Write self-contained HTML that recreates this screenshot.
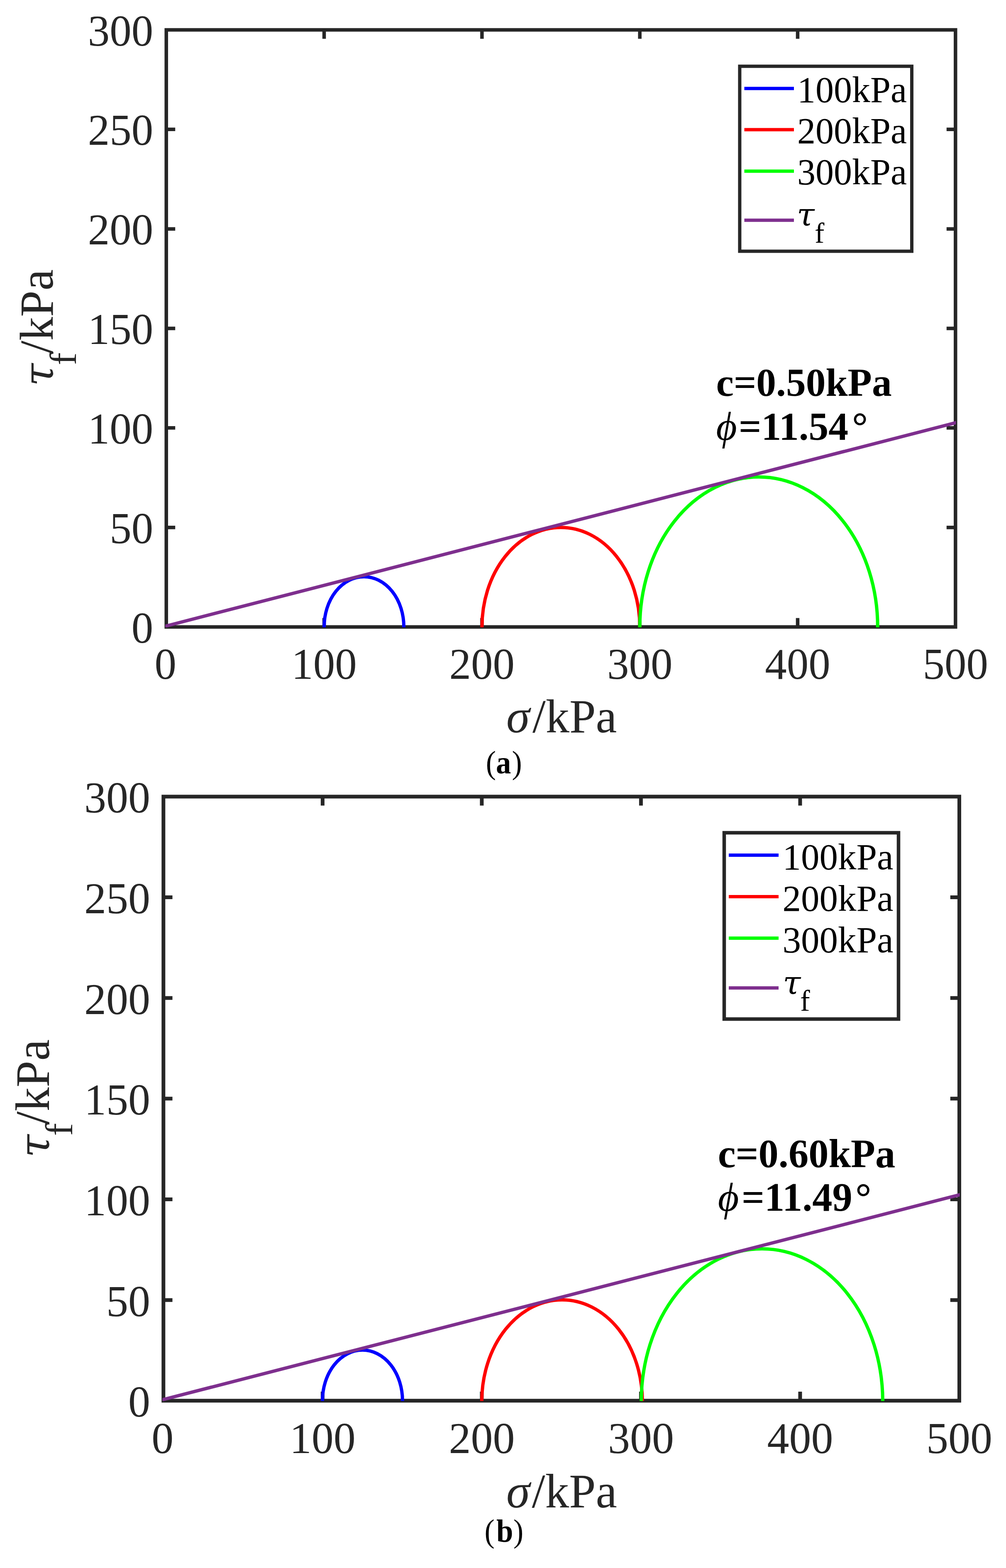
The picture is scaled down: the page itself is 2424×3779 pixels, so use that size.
<!DOCTYPE html>
<html lang="en">
<head>
<meta charset="utf-8">
<title>Mohr circles and shear strength envelope</title>
<style>
html,body{margin:0;padding:0;background:#fff;}
body{width:2424px;height:3779px;overflow:hidden;}
svg{display:block;}
text{white-space:pre;}
</style>
</head>
<body>
<svg width="2424" height="3779" viewBox="0 0 2424 3779">
<rect width="2424" height="3779" fill="#fff"/>
<g class="chart" font-family="'Liberation Serif', 'DejaVu Serif', serif">
<g stroke="#262626" stroke-width="8.5" fill="none">
<rect x="400.70" y="72.00" width="1901.60" height="1439.00"/>
<path d="M781.02 1511.00v-21.50M781.02 72.00v21.50M1161.34 1511.00v-21.50M1161.34 72.00v21.50M1541.66 1511.00v-21.50M1541.66 72.00v21.50M1921.98 1511.00v-21.50M1921.98 72.00v21.50M400.70 1271.17h21.50M2302.30 1271.17h-21.50M400.70 1031.33h21.50M2302.30 1031.33h-21.50M400.70 791.50h21.50M2302.30 791.50h-21.50M400.70 551.67h21.50M2302.30 551.67h-21.50M400.70 311.83h21.50M2302.30 311.83h-21.50"/>
</g>
<clipPath id="clip-a"><rect x="398.20" y="72.00" width="1905.10" height="1440.00"/></clipPath>
<g fill="none" stroke-width="8" clip-path="url(#clip-a)">
<path d="M781.02 1512.00V1511.00A96.03 121.12 0 0 1 973.08 1511.00V1512.00" stroke="#0000ff"/>
<path d="M1161.34 1512.00V1511.00A190.16 239.83 0 0 1 1541.66 1511.00V1512.00" stroke="#ff0000"/>
<path d="M1541.66 1512.00V1511.00A286.57 361.43 0 0 1 2114.80 1511.00V1512.00" stroke="#00ff00"/>
<path d="M381.68 1513.50L2321.32 1014.01" stroke="#7e2f8e"/>
</g>
<g fill="#262626" font-size="105">
<g text-anchor="end">
<text x="369.30" y="1548.50" >0</text>
<text x="369.30" y="1308.67" >50</text>
<text x="369.30" y="1068.83" >100</text>
<text x="369.30" y="829.00" >150</text>
<text x="369.30" y="589.17" >200</text>
<text x="369.30" y="349.33" >250</text>
<text x="369.30" y="109.50" >300</text>
</g>
<g text-anchor="middle">
<text x="398.70" y="1636.00" >0</text>
<text x="781.02" y="1636.00" >100</text>
<text x="1161.34" y="1636.00" >200</text>
<text x="1541.66" y="1636.00" >300</text>
<text x="1921.98" y="1636.00" >400</text>
<text x="2302.30" y="1636.00" >500</text>
</g>
</g>
<text x="1220.00" y="1764.50" fill="#262626" font-size="114.4"><tspan font-style="italic">σ</tspan><tspan x="1283.00">/kPa</tspan></text>
<text transform="translate(126.50 930.00) rotate(-90)" fill="#262626" font-size="114.4"><tspan x="-1.10" y="0" font-family="'DejaVu Serif', 'Liberation Serif', serif" font-style="italic" font-size="100">τ</tspan><tspan x="50.00" y="56.00" font-size="91.5">f</tspan><tspan x="77.30" y="0">/kPa</tspan></text>
<rect x="1782.40" y="159.70" width="414.60" height="445.80" fill="#fff" stroke="#262626" stroke-width="8"/>
<path d="M1793.50 213.20H1913.00" stroke="#0000ff" stroke-width="8"/>
<path d="M1793.50 312.60H1913.00" stroke="#ff0000" stroke-width="8"/>
<path d="M1793.50 412.40H1913.00" stroke="#00ff00" stroke-width="8"/>
<path d="M1793.50 530.70H1913.00" stroke="#7e2f8e" stroke-width="8"/>
<g fill="#000" font-size="88">
<text x="1921.00" y="246.00" >100kPa</text>
<text x="1921.00" y="345.00" >200kPa</text>
<text x="1921.00" y="443.70" >300kPa</text>
<text><tspan x="1920.00" y="544.00" font-family="'DejaVu Serif', 'Liberation Serif', serif" font-style="italic" font-size="77">τ</tspan><tspan x="1963.00" y="584.50" font-size="70">f</tspan></text>
</g>
<g fill="#000" font-size="95.5" font-weight="bold">
<text x="1725.50" y="954.00" >c=0.50kPa</text>
<text x="1725.50" y="1060.00"><tspan font-style="italic" font-weight="normal" font-size="97">ϕ</tspan><tspan x="1780.00">=11.54</tspan><tspan x="2053.00" font-size="95.5">°</tspan></text>
</g>
<text transform="translate(1170.80 1864.00) scale(0.92 1)" fill="#000" font-size="79"><tspan x="0">(</tspan><tspan x="26.41" font-weight="bold">a</tspan><tspan x="68.04">)</tspan></text>
</g>
<g class="chart" font-family="'Liberation Serif', 'DejaVu Serif', serif">
<g stroke="#262626" stroke-width="9" fill="none">
<rect x="393.80" y="1919.90" width="1917.70" height="1455.90"/>
<path d="M777.34 3375.80v-21.70M777.34 1919.90v21.70M1160.88 3375.80v-21.70M1160.88 1919.90v21.70M1544.42 3375.80v-21.70M1544.42 1919.90v21.70M1927.96 3375.80v-21.70M1927.96 1919.90v21.70M393.80 3133.15h21.70M2311.50 3133.15h-21.70M393.80 2890.50h21.70M2311.50 2890.50h-21.70M393.80 2647.85h21.70M2311.50 2647.85h-21.70M393.80 2405.20h21.70M2311.50 2405.20h-21.70M393.80 2162.55h21.70M2311.50 2162.55h-21.70"/>
</g>
<clipPath id="clip-b"><rect x="391.30" y="1919.90" width="1921.20" height="1456.90"/></clipPath>
<g fill="none" stroke-width="8" clip-path="url(#clip-b)">
<path d="M776.96 3376.80V3375.80A96.46 122.05 0 0 1 969.88 3375.80V3376.80" stroke="#0000ff"/>
<path d="M1160.88 3376.80V3375.80A193.50 244.83 0 0 1 1547.87 3375.80V3376.80" stroke="#ff0000"/>
<path d="M1545.19 3376.80V3375.80A290.92 368.10 0 0 1 2127.02 3375.80V3376.80" stroke="#00ff00"/>
<path d="M374.62 3377.82L2330.68 2874.72" stroke="#7e2f8e"/>
</g>
<g fill="#262626" font-size="106">
<g text-anchor="end">
<text x="362.00" y="3414.30" >0</text>
<text x="362.00" y="3171.65" >50</text>
<text x="362.00" y="2929.00" >100</text>
<text x="362.00" y="2686.35" >150</text>
<text x="362.00" y="2443.70" >200</text>
<text x="362.00" y="2201.05" >250</text>
<text x="362.00" y="1958.40" >300</text>
</g>
<g text-anchor="middle">
<text x="391.80" y="3502.00" >0</text>
<text x="777.34" y="3502.00" >100</text>
<text x="1160.88" y="3502.00" >200</text>
<text x="1544.42" y="3502.00" >300</text>
<text x="1927.96" y="3502.00" >400</text>
<text x="2311.50" y="3502.00" >500</text>
</g>
</g>
<text x="1220.00" y="3633.00" fill="#262626" font-size="115.5"><tspan font-style="italic">σ</tspan><tspan x="1281.50">/kPa</tspan></text>
<text transform="translate(117.60 2789.00) rotate(-90)" fill="#262626" font-size="115.5"><tspan x="-1.10" y="0" font-family="'DejaVu Serif', 'Liberation Serif', serif" font-style="italic" font-size="101">τ</tspan><tspan x="51.50" y="56.00" font-size="92.4">f</tspan><tspan x="78.60" y="0">/kPa</tspan></text>
<rect x="1745.00" y="2007.00" width="420.00" height="449.00" fill="#fff" stroke="#262626" stroke-width="8.5"/>
<path d="M1756.00 2061.00H1876.00" stroke="#0000ff" stroke-width="8"/>
<path d="M1756.00 2161.00H1876.00" stroke="#ff0000" stroke-width="8"/>
<path d="M1756.00 2261.00H1876.00" stroke="#00ff00" stroke-width="8"/>
<path d="M1756.00 2381.00H1876.00" stroke="#7e2f8e" stroke-width="8"/>
<g fill="#000" font-size="89">
<text x="1885.50" y="2094.50" >100kPa</text>
<text x="1885.50" y="2194.50" >200kPa</text>
<text x="1885.50" y="2294.50" >300kPa</text>
<text><tspan x="1886.20" y="2395.70" font-family="'DejaVu Serif', 'Liberation Serif', serif" font-style="italic" font-size="78">τ</tspan><tspan x="1928.00" y="2436.00" font-size="71">f</tspan></text>
</g>
<g fill="#000" font-size="96.5" font-weight="bold">
<text x="1729.70" y="2813.00" >c=0.60kPa</text>
<text x="1729.70" y="2918.00"><tspan font-style="italic" font-weight="normal" font-size="98">ϕ</tspan><tspan x="1787.00">=11.49</tspan><tspan x="2061.00" font-size="96.5">°</tspan></text>
</g>
<text transform="translate(1167.60 3716.00) scale(0.92 1)" fill="#000" font-size="79"><tspan x="0">(</tspan><tspan x="30.76" font-weight="bold">b</tspan><tspan x="75.43">)</tspan></text>
</g>
</svg>
</body>
</html>
